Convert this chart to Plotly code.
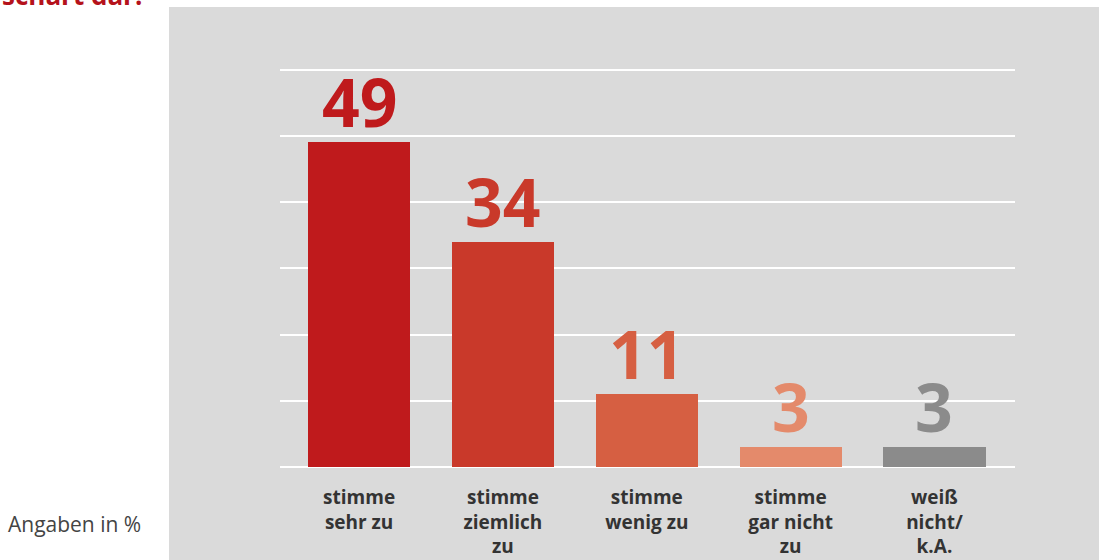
import plotly.graph_objects as go

categories = ["stimme<br>sehr zu", "stimme<br>ziemlich<br>zu", "stimme<br>wenig zu", "stimme<br>gar nicht<br>zu", "weiß<br>nicht/<br>k.A."]
values = [49, 34, 11, 3, 3]
colors = ["#bf1a1c", "#c9392a", "#d65f42", "#e48a6b", "#8b8b8b"]
x_idx = list(range(len(categories)))

FONT = "Open Sans"
H = 404  # plot-area height in px

fig = go.Figure()
fig.add_trace(go.Bar(
    x=x_idx, y=values, marker=dict(color=colors, line=dict(width=0)),
    width=0.71, hoverinfo="skip", showlegend=False,
))

annotations = []
for i, v in enumerate(values):
    annotations.append(dict(
        x=i, y=v, xref="x", yref="y", text=f"<b>{v}</b>", showarrow=False,
        yanchor="bottom", yshift=-6,
        font=dict(family=FONT, size=66, color=colors[i]),
    ))

annotations.append(dict(
    x=-0.381, y=472 / H, xref="paper", yref="paper", text="<b>schart dar:</b>",
    showarrow=False, xanchor="left", yanchor="middle",
    font=dict(family=FONT, size=26, color="#b5121b"),
))
annotations.append(dict(
    x=-0.373, y=(467 - 524) / H, xref="paper", yref="paper", text="Angaben in %",
    showarrow=False, xanchor="left", yanchor="middle",
    font=dict(family=FONT, size=21, color="#444444"),
))

fig.update_layout(
    width=1099, height=560,
    margin=dict(l=280, r=84, t=63, b=93, autoexpand=False),
    paper_bgcolor="white", plot_bgcolor="rgba(0,0,0,0)",
    shapes=[dict(type="rect", xref="paper", yref="paper", layer="below",
                 x0=(169 - 280) / 735, x1=(1099 - 280) / 735,
                 y0=-93 / H, y1=(467 - 7) / H,
                 fillcolor="#dadada", line=dict(width=0))],
    annotations=annotations,
    xaxis=dict(
        tickmode="array", tickvals=x_idx,
        ticktext=[f"<b>{c}</b>" for c in categories],
        range=[-0.55, 4.56], showgrid=False, zeroline=False, showline=False,
        ticks="outside", ticklen=13, tickcolor="rgba(0,0,0,0)",
        tickfont=dict(family=FONT, size=19, color="#333333"),
        fixedrange=True, automargin=False,
    ),
    yaxis=dict(
        range=[0, 61], tickvals=[0, 10, 20, 30, 40, 50, 60],
        showticklabels=False, showgrid=True,
        gridcolor="white", gridwidth=2, zeroline=True, zerolinecolor="white",
        zerolinewidth=2, showline=False, fixedrange=True, automargin=False,
    ),
    bargap=0,
)

fig.write_html("out.html")
